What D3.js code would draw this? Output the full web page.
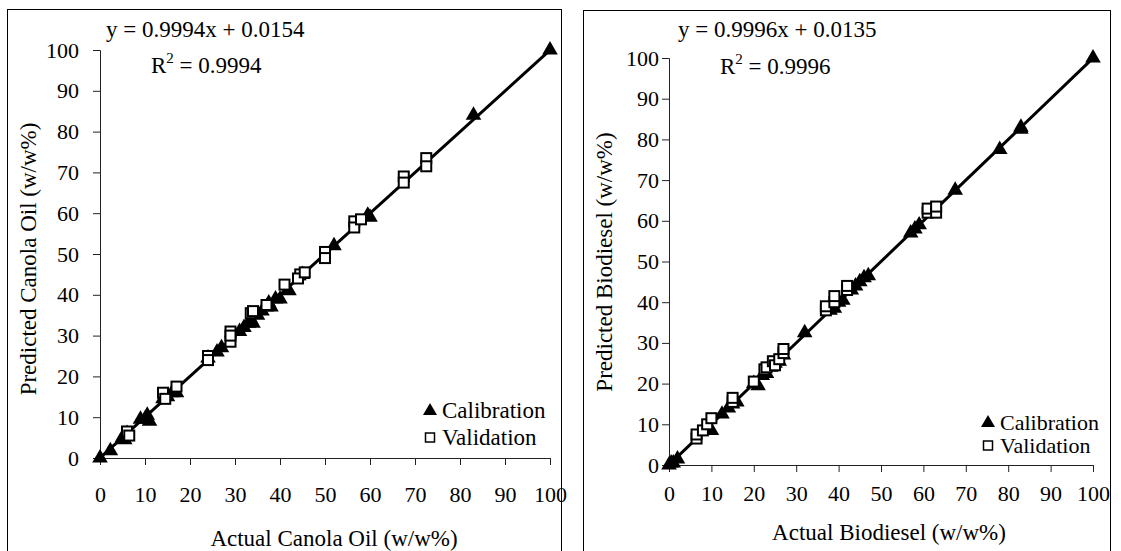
<!DOCTYPE html>
<html>
<head>
<meta charset="utf-8">
<script src="https://cdn.jsdelivr.net/npm/d3@7.8.5/dist/d3.min.js"></script>
<style>
  html, body { margin: 0; padding: 0; background: #fff; }
  svg, svg text { font-family: "Liberation Serif", "Times New Roman", serif; }
</style>
</head>
<body>
<div id="chart"></div>
<script>
// Canola oil panel: [actual, predicted]
const canolaCalibration = [
  [0, 0], [2.3, 1.8], [5, 5], [5.5, 4.5], [6, 6], [9, 9.5], [10, 9.5], [10.5, 10.5], [11, 9],
  [14, 14.5], [15, 15], [16, 16], [17, 16], [24, 24.5], [26, 26], [27, 27], [31, 31], [32, 32],
  [33, 33], [33.5, 34], [34, 33], [35, 35], [36, 36], [37, 37], [37.5, 38], [38, 37], [39, 39],
  [40, 39], [42, 41], [45, 45], [52, 52], [59.5, 59.5], [60, 59], [83, 84], [100, 100]
];
const canolaValidation = [
  [6, 6.5], [6.5, 5.5], [14, 16], [14.5, 14.5], [17, 17.5], [24, 25], [24, 24], [29, 31],
  [29, 28.5], [29, 30], [33.5, 35.5], [34, 36], [37, 37.5], [41, 42.5], [44.5, 45], [44, 44],
  [45.5, 45.5], [50, 50.5], [50, 49], [56.5, 58], [56.5, 56.5], [58, 58.5], [67.5, 69],
  [67.5, 67.5], [72.5, 73.5], [72.5, 71.5]
];
const canolaFit = { slope: 0.9994, intercept: 0.0154 };

// Biodiesel panel: [actual, predicted]
const biodieselCalibration = [
  [0, 0], [0.5, 0.5], [1, 0.5], [2, 1.5], [9, 8.5], [10, 8.5], [12.5, 12.5], [14, 14], [15, 15],
  [16, 15.5], [20, 20], [21, 19.5], [22, 22], [23, 22.5], [24, 24], [25, 25], [26, 25.5],
  [27, 27], [32, 32.5], [38, 38], [39, 38.5], [40, 40], [41, 40.5], [43, 43], [44, 44],
  [45, 45], [46, 46], [47, 46.5], [57, 57], [58, 58], [59, 59], [67.5, 67.5], [78, 77.5],
  [83, 82.5], [83, 83], [100, 100]
];
const biodieselValidation = [
  [6.5, 6.5], [6.5, 7.5], [8, 8.5], [9, 10], [10, 11.5], [15, 15.5], [15, 16.5], [20, 20.5],
  [22.5, 23.5], [23, 24], [24.5, 25.5], [25, 24.5], [26, 26], [27, 27.5], [27, 28.5], [37, 38],
  [37, 39], [39, 40], [39, 41.5], [42, 43], [42, 44], [61, 62], [61, 63], [63, 62], [63, 63.5]
];
const biodieselFit = { slope: 0.9996, intercept: 0.0135 };

const tickValues = [0, 10, 20, 30, 40, 50, 60, 70, 80, 90, 100];
const legendLabels = ["Calibration", "Validation"];

const W = 1121, H = 551;
const FONT = '"Liberation Serif", "Times New Roman", serif';
const svg = d3.select("#chart").append("svg").attr("width", W).attr("height", H)
  .attr("font-family", FONT);

const triangle = d3.symbol().type(d3.symbolTriangle).size(105);
const triangleSmall = d3.symbol().type(d3.symbolTriangle).size(85);

function drawPanel(p) {
  const g = svg.append("g").attr("font-family", FONT);

  // frame
  g.append("rect")
    .attr("x", p.frame[0] + 0.5).attr("y", p.frame[1] + 0.5)
    .attr("width", p.frame[2]).attr("height", p.frame[3])
    .attr("fill", "none").attr("stroke", "#000").attr("stroke-width", 1);

  const x = d3.scaleLinear().domain([0, 100]).range(p.xRange);
  const y = d3.scaleLinear().domain([0, 100]).range(p.yRange);

  const xAxis = g.append("g")
    .attr("transform", `translate(0,${p.yRange[0]})`)
    .call(d3.axisBottom(x).tickValues(tickValues).tickSizeOuter(0).tickSize(7).tickPadding(p.xPad));
  const yAxis = g.append("g")
    .attr("transform", `translate(${p.xRange[0]},0)`)
    .call(d3.axisLeft(y).tickValues(tickValues).tickSizeOuter(0).tickSize(7).tickPadding(p.yPad));

  [xAxis, yAxis].forEach(a => {
    a.attr("font-family", FONT).attr("font-size", 22);
    a.select(".domain").attr("stroke", "#222");
    a.selectAll(".tick line").attr("stroke", "#222");
    a.selectAll("text")
      .attr("fill", "#000")
      .style("font-family", FONT)
      .style("font-size", "22px");
  });

  // regression line
  g.append("line")
    .attr("x1", x(0)).attr("y1", y(p.fit.intercept))
    .attr("x2", x(100)).attr("y2", y(p.fit.slope * 100 + p.fit.intercept))
    .attr("stroke", "#000").attr("stroke-width", 3);

  // calibration triangles
  g.selectAll(".cal").data(p.cal).enter().append("path")
    .attr("class", "cal")
    .attr("d", triangle)
    .attr("transform", d => `translate(${x(d[0])},${y(d[1])})`)
    .attr("fill", "#000");

  // validation squares
  g.selectAll(".val").data(p.val).enter().append("rect")
    .attr("class", "val")
    .attr("x", d => x(d[0]) - 5).attr("y", d => y(d[1]) - 5)
    .attr("width", 10).attr("height", 10)
    .attr("fill", "#fff").attr("stroke", "#000").attr("stroke-width", 2);

  // axis titles
  g.append("text")
    .attr("x", p.xTitle[0]).attr("y", p.xTitle[1])
    .attr("text-anchor", "middle").attr("font-size", 23)
    .text(p.xLabel);
  g.append("text")
    .attr("transform", `translate(${p.yTitle[0]},${p.yTitle[1]}) rotate(-90)`)
    .attr("text-anchor", "middle").attr("font-size", 23)
    .text(p.yLabel);

  // equation
  g.append("text")
    .attr("x", p.eq[0]).attr("y", p.eq[1]).attr("font-size", 23)
    .text(`y = ${p.fit.slope.toFixed(4)}x + ${p.fit.intercept.toFixed(4)}`);
  const r2 = g.append("text")
    .attr("x", p.r2[0]).attr("y", p.r2[1]).attr("font-size", 23);
  r2.append("tspan").text("R");
  r2.append("tspan").attr("font-size", 15).attr("dy", -10).text("2");
  r2.append("tspan").attr("dy", 10).text(` = ${p.r2Value}`);

  // legend
  const lg = g.append("g").attr("transform", `translate(${p.legend[0]},${p.legend[1]})`);
  lg.append("path").attr("d", triangleSmall).attr("transform", "translate(0,1)").attr("fill", "#000");
  lg.append("rect").attr("x", -4.5).attr("y", p.legendGap - 4).attr("width", 9).attr("height", 9)
    .attr("fill", "#fff").attr("stroke", "#000").attr("stroke-width", 1.5);
  lg.selectAll(".lt").data(legendLabels).enter().append("text")
    .attr("x", 12).attr("y", (d, i) => 8 + i * p.legendGap)
    .attr("font-size", p.legendSize)
    .text(d => d);
}

drawPanel({
  frame: [7, 9, 554, 560],
  xRange: [100, 550], yRange: [458, 50],
  xPad: 21, yPad: 14,
  cal: canolaCalibration, val: canolaValidation, fit: canolaFit, r2Value: "0.9994",
  xLabel: "Actual Canola Oil (w/w%)", yLabel: "Predicted Canola Oil (w/w%)",
  xTitle: [334, 546], yTitle: [36, 259],
  eq: [106, 37], r2: [151, 73],
  legend: [430, 410], legendGap: 27, legendSize: 23
});

drawPanel({
  frame: [583, 10, 527, 560],
  xRange: [669, 1093], yRange: [465, 58],
  xPad: 13, yPad: 3,
  cal: biodieselCalibration, val: biodieselValidation, fit: biodieselFit, r2Value: "0.9996",
  xLabel: "Actual Biodiesel (w/w%)", yLabel: "Predicted Biodiesel (w/w%)",
  xTitle: [889, 540], yTitle: [612, 262],
  eq: [678, 37], r2: [720, 74],
  legend: [988, 422], legendGap: 23, legendSize: 22
});
</script>
</body>
</html>
